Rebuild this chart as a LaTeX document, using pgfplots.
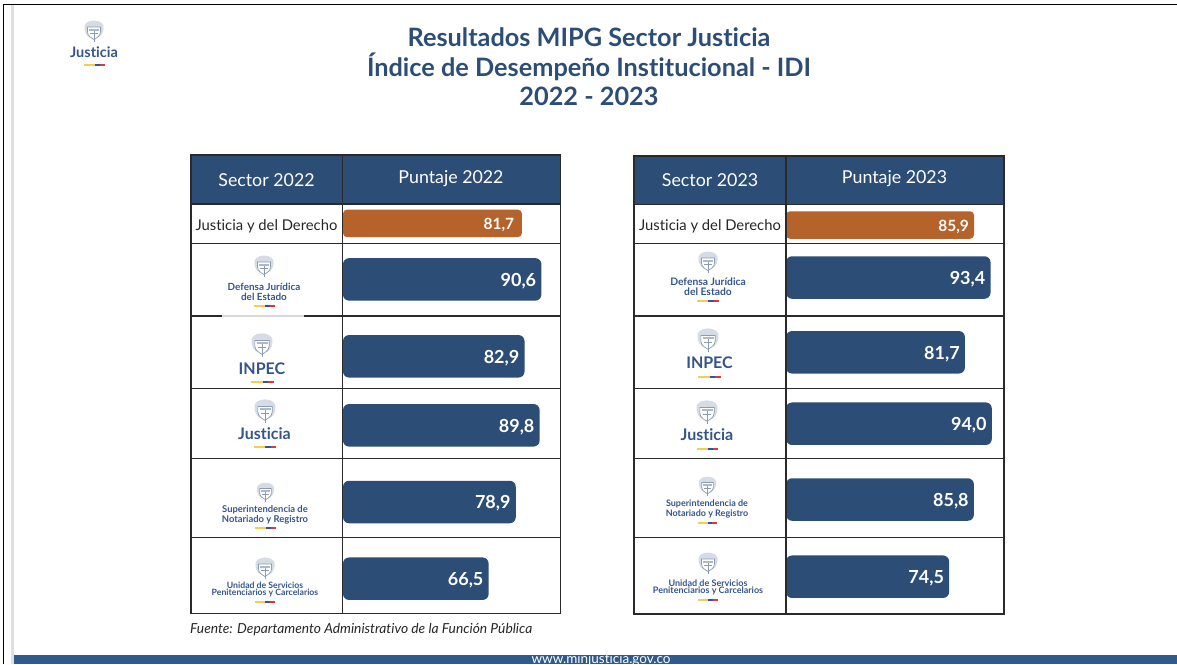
\documentclass[border=0pt]{standalone}
\usepackage{pgfplots}
\pgfplotsset{compat=1.18}
\usepackage{fontspec}
\setmainfont[Ligatures=NoCommon]{Lato}
\definecolor{navy}{HTML}{2C4D75}
\definecolor{orng}{HTML}{B5622B}
\definecolor{foot}{HTML}{2F5A8C}
\definecolor{logo}{HTML}{34558A}
\definecolor{rule}{HTML}{2A2A2A}
\definecolor{crestl}{HTML}{D5DCE5}
\definecolor{crestd}{HTML}{8A9BB2}
\newcommand{\fs}[1]{\fontsize{#1}{#1}\selectfont}
\newcommand{\crest}[3]{%
\begin{scope}[shift={(#1,#2)},scale=#3]
\fill[crestl] (-9.5,-3) .. controls (-11,-8) and (-6,-11.5) .. (0,-11.5) .. controls (6,-11.5) and (11,-8) .. (9.5,-3) .. controls (9,1) and (7,4) .. (5,5) -- (-5,5) .. controls (-7,4) and (-9,1) .. (-9.5,-3) -- cycle;
\draw[crestd,line width=.7pt,fill=white] (-6.5,-5) -- (6.5,-5) -- (6.5,0) .. controls (6.5,4) and (2.5,6) .. (0,7.5) .. controls (-2.5,6) and (-6.5,4) .. (-6.5,0) -- cycle;
\fill[crestd!70] (-5,-3.5) rectangle (5,-1.5);
\draw[crestd,line width=.5pt] (0,-1.5) -- (0,10) (-4,1.5) -- (4,1.5);
\end{scope}}
\definecolor{stry}{HTML}{F5CE4E}
\definecolor{strb}{HTML}{3B4FA0}
\definecolor{strr}{HTML}{D93A3E}
\newcommand{\stripe}[3]{% x0, x1, y
\fill[stry] (#1,#3-1) rectangle ({#1+0.5*(#2-#1)},#3+1);
\fill[strb] ({#1+0.5*(#2-#1)},#3-1) rectangle ({#1+0.75*(#2-#1)},#3+1);
\fill[strr] ({#1+0.75*(#2-#1)},#3-1) rectangle (#2,#3+1);}
\pgfplotsset{barax/.style={
  anchor=north west, scale only axis, width=217pt, height=410pt,
  xmin=0, xmax=99.1, ymin=204, ymax=614, y dir=reverse,
  axis lines=none, clip=false, xbar,
  nodes near coords, point meta=x,
  nodes near coords style={white,font=\fs{18}\bfseries,anchor=east,inner sep=0pt,xshift=-5pt,yshift=-1.5pt,
    /pgf/number format/assume math mode=true,/pgf/number format/use comma,/pgf/number format/fixed,/pgf/number format/fixed zerofill,/pgf/number format/precision=1},
}}
\begin{document}
\begin{tikzpicture}[x=1pt,y=-1pt]
\path[use as bounding box] (0,0) rectangle (1177,664);
% frame
\fill[black!12] (11,5) rectangle (14,664);
\draw[black,line width=1.6pt] (3.5,664) -- (3.5,4.5) -- (1177,4.5);
\fill[foot] (14,655) rectangle (1177,664);
\node[white,font=\fs{13.5},inner sep=0pt] at (601,660) {www.minjusticia.gov.co};
% title
\node[navy,font=\fs{25.3}\bfseries,inner sep=0pt] at (589,37) {Resultados MIPG Sector Justicia};
\node[navy,font=\fs{25.3}\bfseries,inner sep=0pt] at (589,67) {Índice de Desempeño Institucional - IDI};
\node[navy,font=\fs{25.3}\bfseries,inner sep=0pt] at (589,96) {2022 - 2023};
% top-left logo
\crest{94}{32}{1}
\node[logo,font=\fs{14.5}\bfseries,inner sep=0pt] at (94,52) {Justicia};
\stripe{84}{105}{64.5}
% headers
\fill[navy] (191,155) rectangle (560.5,204);
\fill[navy] (634,156) rectangle (1004,204);
\node[white,font=\fs{17.8},inner sep=0pt] at (266.5,180) {Sector 2022};
\node[white,font=\fs{17.8},inner sep=0pt] at (451,178.5) {Puntaje 2022};
\node[white,font=\fs{17.8},inner sep=0pt] at (710,180) {Sector 2023};
\node[white,font=\fs{17.8},inner sep=0pt] at (894.5,179) {Puntaje 2023};
% bars 2022
\begin{axis}[barax, at={(343pt,-204pt)}]
\addplot[fill=orng,draw=none,rounded corners=4pt,bar width=27.5pt,bar shift=0pt,nodes near coords style={font=\fs{15.5}\bfseries,xshift=-2.5pt}] coordinates {(81.7,223.4)};
\addplot[fill=navy,draw=none,rounded corners=6pt,bar width=42.5pt,bar shift=0pt] coordinates {(90.6,279.4) (82.9,356.3) (89.8,425.3) (78.9,502) (66.5,578.7)};
\end{axis}
% bars 2023
\begin{axis}[barax, at={(786pt,-204pt)}]
\addplot[fill=orng,draw=none,rounded corners=4pt,bar width=27.5pt,bar shift=0pt,nodes near coords style={font=\fs{15.5}\bfseries}] coordinates {(85.9,225)};
\addplot[fill=navy,draw=none,rounded corners=6pt,bar width=42.5pt,bar shift=0pt] coordinates {(93.4,277.5) (81.7,352.3) (94.0,423.7) (85.8,499.5) (74.5,576.7)};
\end{axis}
% grid
\begin{scope}[rule,line width=1.2pt]
\draw (191,155) rectangle (560.5,613.7);
\draw (342.5,155) -- (342.5,613.7);
\foreach \y in {204,243.5,316,388.7,458.3,537.7} \draw (191,\y) -- (560.5,\y);
\draw (634,156) rectangle (1004,614);
\draw (786,156) -- (786,614);
\foreach \y in {204.3,243.7,316,388.3,458.7,537.7} \draw (634,\y) -- (1004,\y);
\end{scope}
\draw[black!15,line width=1.4pt] (222,316) -- (304,316);
% row labels
\node[black!85,font=\fs{14.8},inner sep=0pt] at (266.5,226) {Justicia y del Derecho};
\node[black!85,font=\fs{14.8},inner sep=0pt] at (710,226.5) {Justicia y del Derecho};
% logos 2022
\crest{264}{267}{1}
\node[logo,font=\fs{9.9}\bfseries,inner sep=0pt] at (264,287) {Defensa Jurídica};
\node[logo,font=\fs{9.9}\bfseries,inner sep=0pt] at (264,296.5) {del Estado};
\stripe{254}{275}{306}
\crest{262}{346}{1.1}
\node[logo,font=\fs{16}\bfseries,inner sep=0pt] at (262,369) {INPEC};
\stripe{251}{274}{382}
\crest{265}{412}{1.1}
\node[logo,font=\fs{16}\bfseries,inner sep=0pt] at (264.5,433.5) {Justicia};
\stripe{254}{276}{447}
\crest{265.5}{493}{0.9}
\node[logo,font=\fs{9.4}\bfseries,inner sep=0pt] at (265,509.5) {Superintendencia de};
\node[logo,font=\fs{9.4}\bfseries,inner sep=0pt] at (265,519.5) {Notariado y Registro};
\stripe{255}{276}{528}
\crest{265}{569}{1}
\node[logo,font=\fs{8.7}\bfseries,inner sep=0pt] at (265,585.7) {Unidad de Servicios};
\node[logo,font=\fs{8.7}\bfseries,inner sep=0pt] at (265,593) {Penitenciarios y Carcelarios};
\stripe{255}{275}{601.5}
% logos 2023
\crest{708}{263}{1}
\node[logo,font=\fs{10.3}\bfseries,inner sep=0pt] at (708,281.5) {Defensa Jurídica};
\node[logo,font=\fs{10.3}\bfseries,inner sep=0pt] at (708,291.5) {del Estado};
\stripe{697}{719}{301}
\crest{708}{341}{1.1}
\node[logo,font=\fs{16}\bfseries,inner sep=0pt] at (709.5,363) {INPEC};
\stripe{698}{721}{376.5}
\crest{707}{413}{1.1}
\node[logo,font=\fs{16}\bfseries,inner sep=0pt] at (707,435) {Justicia};
\stripe{697}{718}{448.7}
\crest{707.5}{487}{0.9}
\node[logo,font=\fs{9}\bfseries,inner sep=0pt] at (707,503.7) {Superintendencia de};
\node[logo,font=\fs{9}\bfseries,inner sep=0pt] at (707,513.5) {Notariado y Registro};
\stripe{698}{717}{522.5}
\crest{708}{564}{1}
\node[logo,font=\fs{9}\bfseries,inner sep=0pt] at (708,582.8) {Unidad de Servicios};
\node[logo,font=\fs{9}\bfseries,inner sep=0pt] at (708,590.6) {Penitenciarios y Carcelarios};
\stripe{698}{718}{600}
% source
\node[black!85,font=\fs{13.8}\itshape,anchor=west,inner sep=0pt] at (190,629.5) {Fuente: Departamento Administrativo de la Función Pública};
\end{tikzpicture}
\end{document}
